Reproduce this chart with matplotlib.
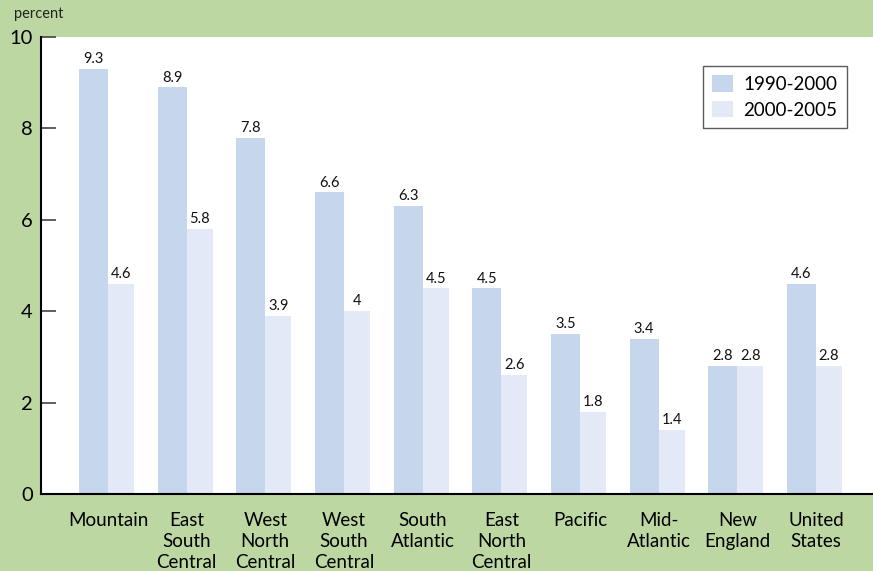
import matplotlib
matplotlib.use("Agg")
import matplotlib.pyplot as plt
import numpy as np

categories = ["Mountain", "East\nSouth\nCentral", "West\nNorth\nCentral", "West\nSouth\nCentral",
              "South\nAtlantic", "East\nNorth\nCentral", "Pacific", "Mid-\nAtlantic",
              "New\nEngland", "United\nStates"]
s1990_2000 = [9.3, 8.9, 7.8, 6.6, 6.3, 4.5, 3.5, 3.4, 2.8, 4.6]
s2000_2005 = [4.6, 5.8, 3.9, 4.0, 4.5, 2.6, 1.8, 1.4, 2.8, 2.8]
series_names = ["1990-2000", "2000-2005"]
yticks = [0, 2, 4, 6, 8, 10]

plt.rcParams['font.family'] = ['Lato', 'DejaVu Sans']

GREEN = "#bdd7a3"
C1 = "#c5d6ed"
C2 = "#e3e9f6"

fig = plt.figure(figsize=(8.73, 5.71), dpi=100)
fig.patch.set_facecolor(GREEN)
ax = fig.add_axes([41/873, 77/571, 1 - 41/873, (494-37)/571])
ax.set_facecolor("white")

x = np.arange(len(categories))
w1 = 0.37
w2 = 0.33
b1 = ax.bar(x - w1, s1990_2000, width=w1, align='edge', color=C1, label=series_names[0])
b2 = ax.bar(x, s2000_2005, width=w2, align='edge', color=C2, label=series_names[1])

for rect, v in zip(b1, s1990_2000):
    ax.text(rect.get_x() + rect.get_width()/2, v + 0.06, f"{v:g}", ha='center', va='bottom',
            fontsize=10.5, color='#111111')
for rect, v in zip(b2, s2000_2005):
    ax.text(rect.get_x() + rect.get_width()/2, v + 0.06, f"{v:g}", ha='center', va='bottom',
            fontsize=10.5, color='#111111')

ax.set_xlim(-0.851, 9.724)
ax.set_ylim(0, 10)
ax.set_yticks(yticks)
ax.set_yticklabels([str(t) for t in yticks], fontsize=14.5)
ax.set_xticks(x)
ax.set_xticklabels(categories, fontsize=13.5, va='top')
for lbl in ax.get_xticklabels():
    lbl.set_linespacing(1.3)
ax.tick_params(axis='x', length=0, pad=13)
ax.tick_params(axis='y', direction='in', length=11, width=1.2, color='#444444', pad=6)

for s in ['top', 'right']:
    ax.spines[s].set_visible(False)
ax.spines['left'].set_linewidth(1.5)
ax.spines['bottom'].set_linewidth(1.5)
ax.spines['left'].set_color('black')
ax.spines['bottom'].set_color('black')

leg = ax.legend(loc='upper left', bbox_to_anchor=((703-41)/832, (494-66)/457), fontsize=13.5,
                frameon=True, fancybox=False, handlelength=1.1, handleheight=1.0,
                handletextpad=0.55, borderpad=0.5, labelspacing=0.4, borderaxespad=0)
leg.get_frame().set_edgecolor('#333333')
leg.get_frame().set_linewidth(1.0)

fig.text(14/873, 1 - 14/571, "percent", fontsize=10.5, va='center', ha='left', color='#222222')

fig.savefig("out.png", dpi=100, facecolor=GREEN)
